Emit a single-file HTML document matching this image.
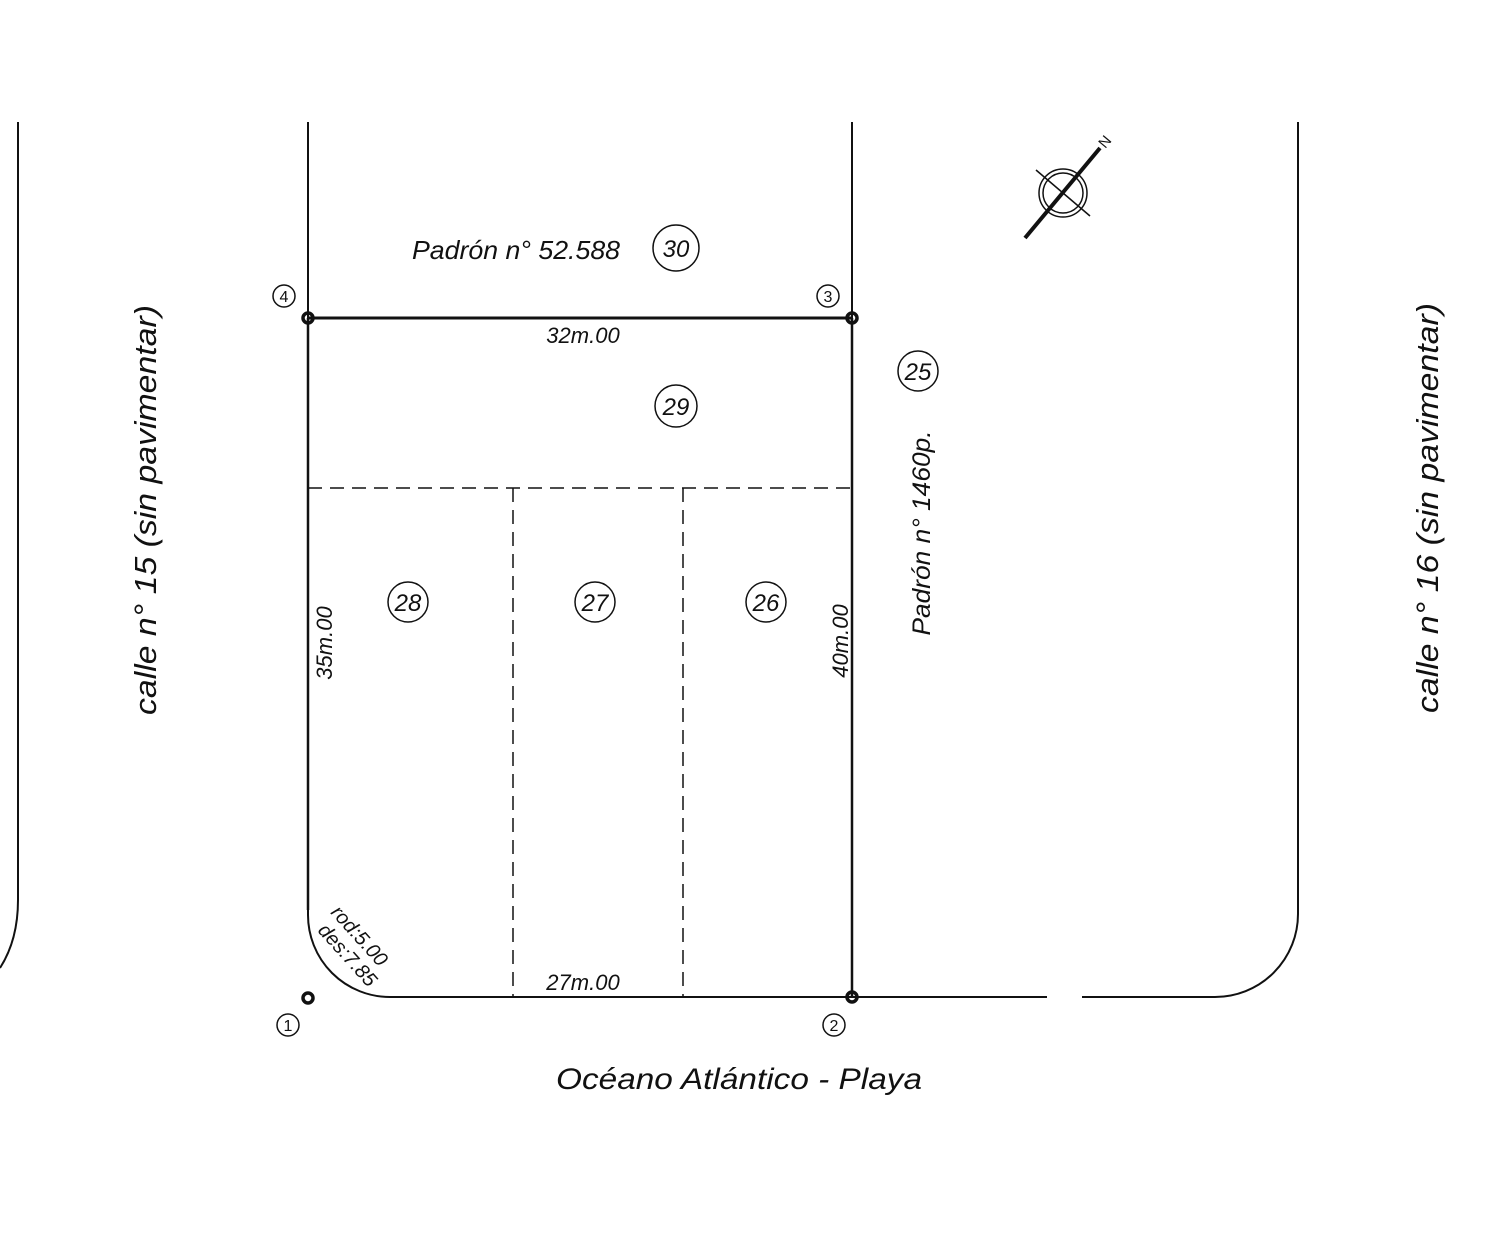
<!DOCTYPE html>
<html><head><meta charset="utf-8"><style>
html,body{margin:0;padding:0;background:#fff;}
svg{display:block;}
text{font-family:"Liberation Sans",sans-serif;font-style:italic;fill:#111;}
text.n{font-style:normal;}
</style></head><body>
<svg width="1505" height="1237" viewBox="0 0 1505 1237" xmlns="http://www.w3.org/2000/svg">
<g fill="none" stroke="#111" stroke-width="2">
<path d="M18 122 V900 Q18 940 0 968"/>
<path d="M308 122 V915 A82 82 0 0 0 390 997 H1047"/>
<path d="M1082 997 H1215 A83 83 0 0 0 1298 914 V122"/>
<line x1="852" y1="122" x2="852" y2="997"/>
<line x1="308" y1="318" x2="852" y2="318" stroke-width="3"/>
<line x1="852" y1="318" x2="852" y2="997" stroke-width="2.5"/>
<line x1="308" y1="318" x2="308" y2="910" stroke-width="2.5"/>
<g stroke-dasharray="14 8" stroke-width="1.5">
<line x1="308" y1="488" x2="852" y2="488"/>
<line x1="513" y1="488" x2="513" y2="997"/>
<line x1="683" y1="488" x2="683" y2="997"/>
</g>
<g stroke-width="3.5">
<circle cx="308" cy="318" r="5"/><circle cx="852" cy="318" r="5"/>
<circle cx="852" cy="997" r="5"/><circle cx="308" cy="998" r="5"/>
</g>
<g stroke-width="1.5">
<circle cx="676" cy="248" r="23"/><circle cx="676" cy="406" r="21"/>
<circle cx="918" cy="371" r="20"/><circle cx="408" cy="602" r="20"/>
<circle cx="595" cy="602" r="20"/><circle cx="766" cy="602" r="20"/>
<circle cx="284" cy="296" r="11"/><circle cx="828" cy="296" r="11"/>
<circle cx="288" cy="1025" r="11"/><circle cx="834" cy="1025" r="11"/>
</g>
<line x1="1025" y1="238" x2="1100" y2="148" stroke-width="4"/>
<circle cx="1063" cy="193" r="24" stroke-width="1.5"/>
<circle cx="1063" cy="193" r="20" stroke-width="1.5"/>
<line x1="1036" y1="170" x2="1090" y2="216" stroke-width="1.5"/>
</g>
<text class="n" x="1100" y="146" font-size="15" transform="rotate(-50 1106 142)">N</text>
<text x="412" y="259" font-size="26" textLength="208" lengthAdjust="spacingAndGlyphs">Padrón n° 52.588</text>
<text x="556" y="1089" font-size="30" textLength="366" lengthAdjust="spacingAndGlyphs">Océano Atlántico - Playa</text>
<g font-size="24" text-anchor="middle">
<text x="676" y="257">30</text><text x="676" y="415">29</text>
<text x="918" y="380">25</text><text x="408" y="611">28</text>
<text x="595" y="611">27</text><text x="766" y="611">26</text>
</g>
<g font-size="16" text-anchor="middle">
<text class="n" x="284" y="302">4</text><text class="n" x="828" y="302">3</text>
<text class="n" x="288" y="1031">1</text><text class="n" x="834" y="1031">2</text>
</g>
<g font-size="22">
<text x="583" y="343" text-anchor="middle">32m.00</text>
<text x="583" y="990" text-anchor="middle">27m.00</text>
<text transform="translate(332 643) rotate(-90)" text-anchor="middle">35m.00</text>
<text transform="translate(848 641) rotate(-90)" text-anchor="middle">40m.00</text>
<text transform="translate(930 533) rotate(-90)" text-anchor="middle" font-size="25" textLength="205" lengthAdjust="spacingAndGlyphs">Padrón n° 1460p.</text>
<text transform="translate(156 510) rotate(-90)" text-anchor="middle" font-size="31" textLength="410" lengthAdjust="spacingAndGlyphs">calle n° 15  (sin pavimentar)</text>
<text transform="translate(1438 508) rotate(-90)" text-anchor="middle" font-size="31" textLength="410" lengthAdjust="spacingAndGlyphs">calle n° 16  (sin pavimentar)</text>
<text transform="translate(330 913) rotate(48)" font-size="20">rod:5.00</text>
<text transform="translate(317 931) rotate(48)" font-size="20">des:7.85</text>
</g>
</svg>
</body></html>
